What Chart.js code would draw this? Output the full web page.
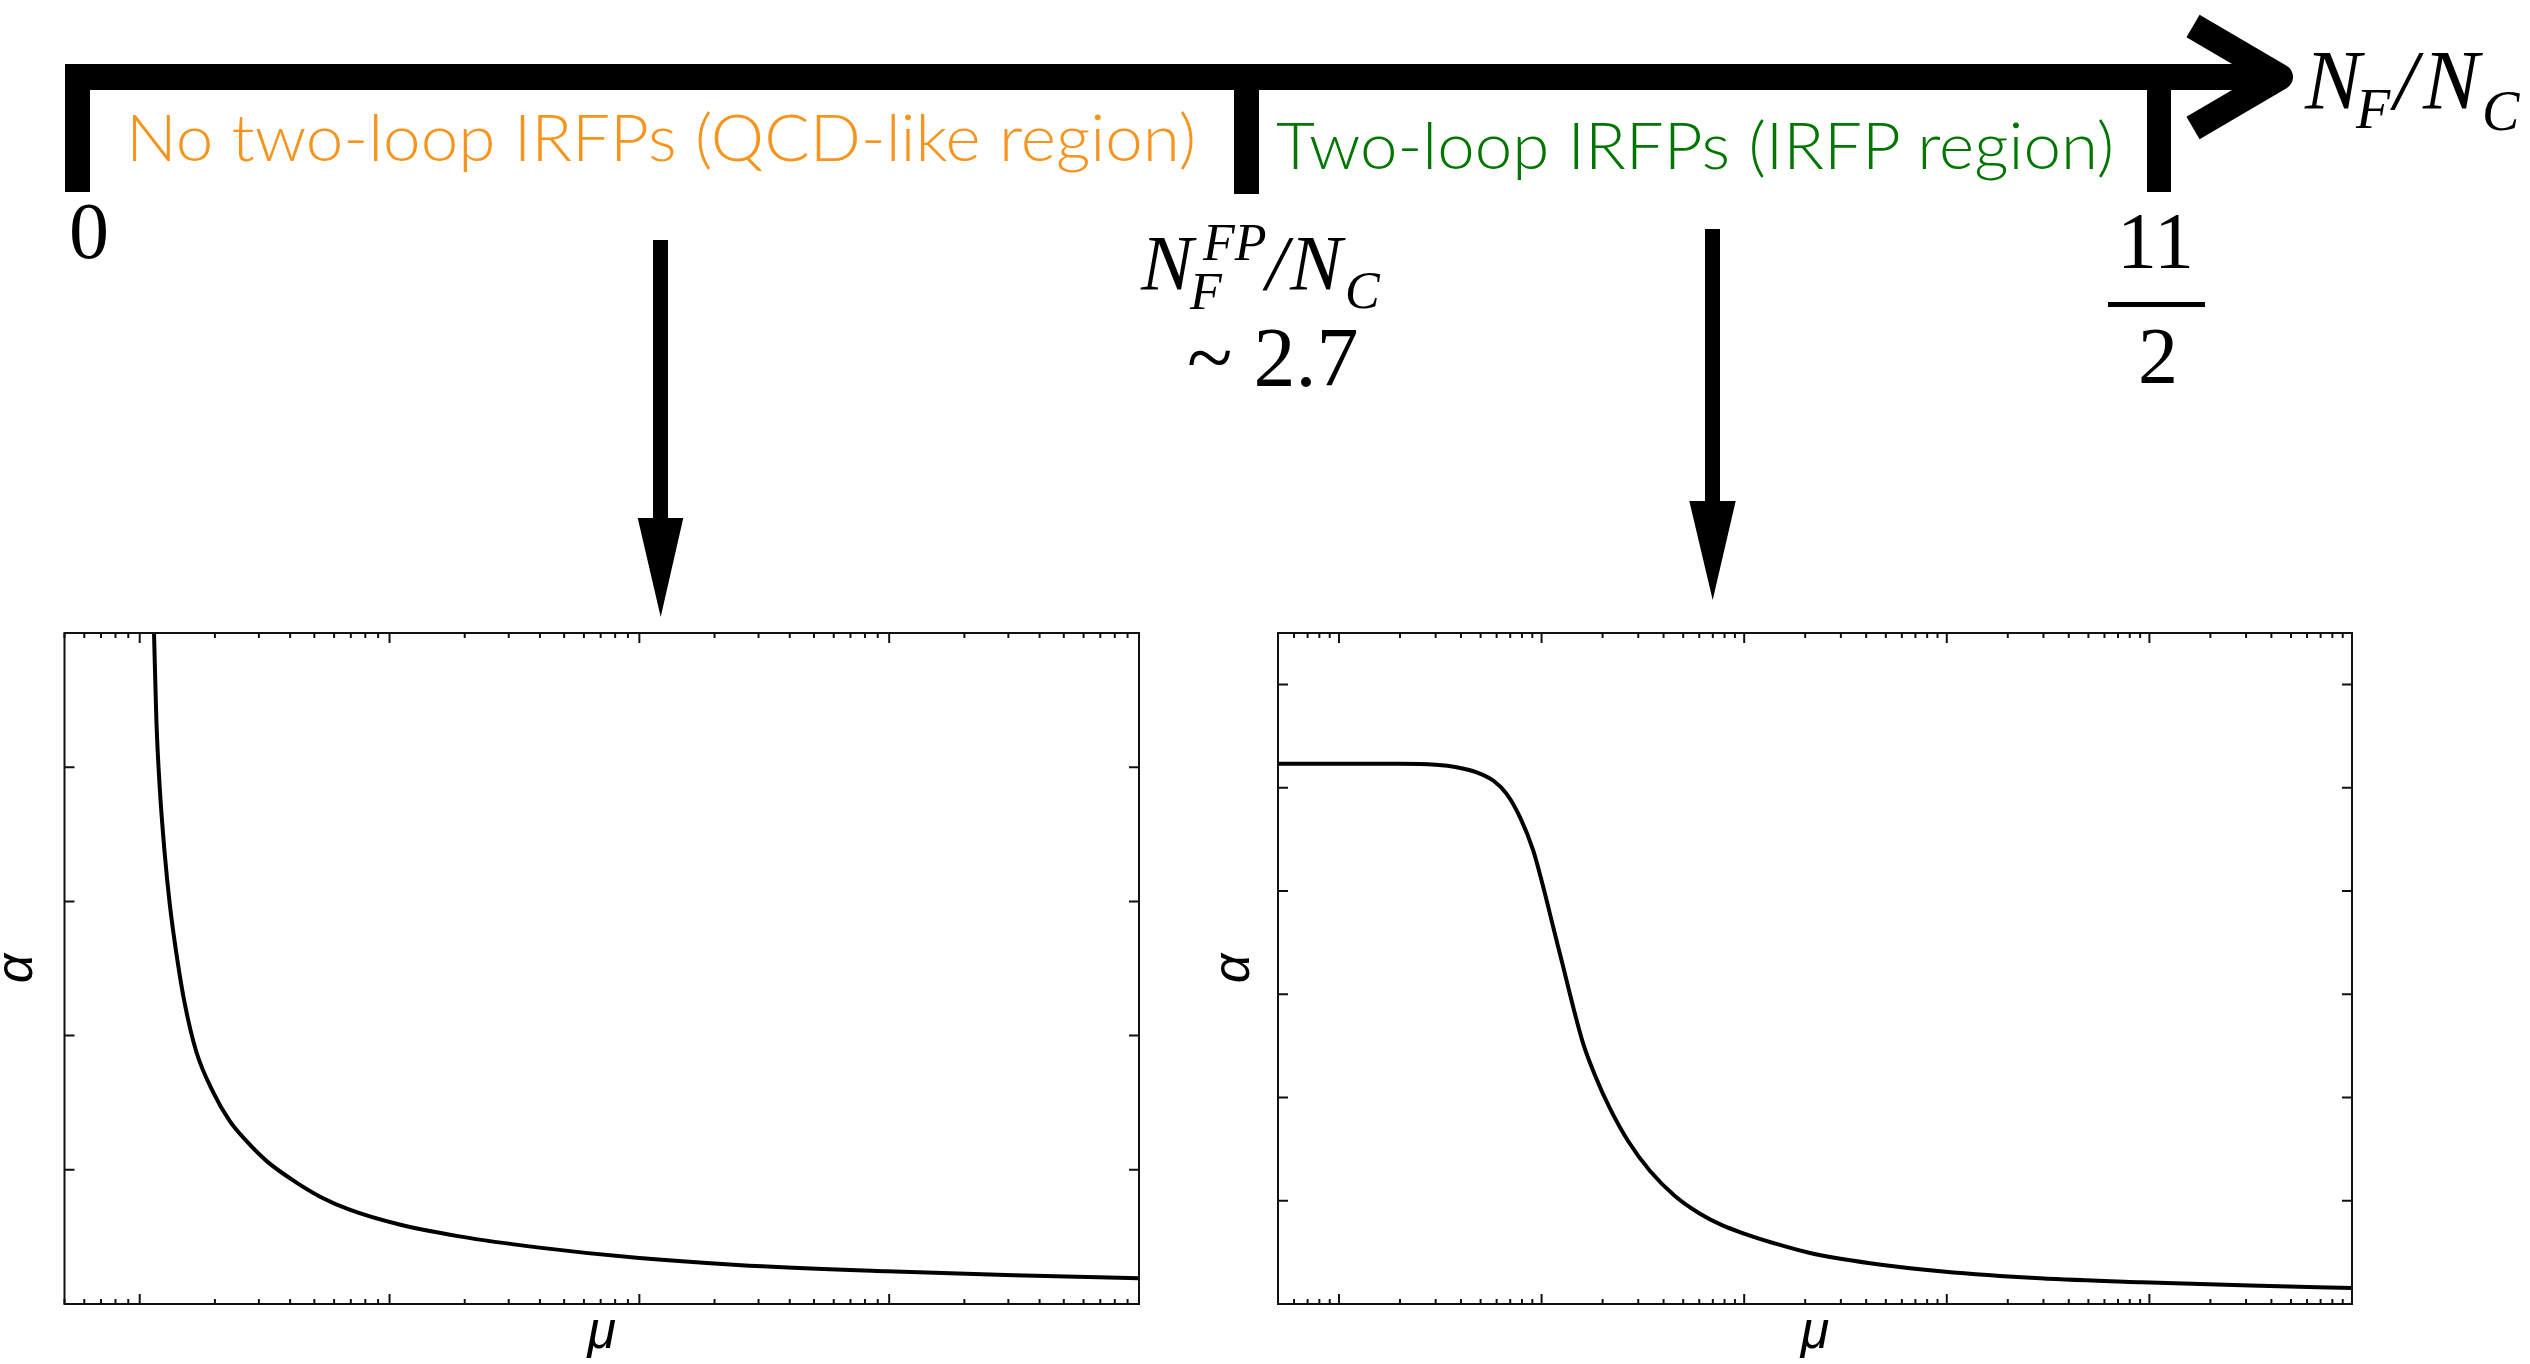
<!DOCTYPE html>
<html>
<head>
<meta charset="utf-8">
<script src="https://cdn.jsdelivr.net/npm/chart.js@4.4.1/dist/chart.umd.min.js"></script>
<style>
  html, body { margin: 0; padding: 0; background: #fff; }
  #page { position: relative; width: 2530px; height: 1364px; overflow: hidden; }
  .abs { position: absolute; white-space: nowrap; line-height: 1; }
  .serif { font-family: "Liberation Serif", "DejaVu Serif", serif; color: #000; }
  .it { font-style: italic; }
  .region { font-family: Lato, "Open Sans", sans-serif; font-weight: 300; transform-origin: left top; }
  canvas { position: absolute; }
</style>
</head>
<body>
<div id="page">
  <!-- number line with region markers and arrows -->
  <svg class="abs" width="2530" height="1364" style="left:0;top:0">
    <rect x="65" y="64" width="2212" height="26" fill="#000"/>
    <rect x="65" y="64" width="25" height="128" fill="#000"/>
    <rect x="1234" y="64" width="25" height="130" fill="#000"/>
    <rect x="2147" y="64" width="24" height="128" fill="#000"/>
    <polyline points="2193,26 2280,77 2193,128" fill="none" stroke="#000" stroke-width="26" stroke-linejoin="round"/>
    <rect x="2108" y="302" width="97" height="5" fill="#000"/>
    <rect x="653" y="240" width="15" height="280" fill="#000"/>
    <polygon points="637.7,518 683.3,518 660.7,617" fill="#000"/>
    <rect x="1705" y="229" width="15" height="274" fill="#000"/>
    <polygon points="1689.3,501 1735.7,501 1712.7,600" fill="#000"/>
  </svg>

  <div class="abs region" data-w="1070" style="left:126px;top:103px;font-size:66px;color:rgb(247,148,29)">No two-loop IRFPs (QCD-like region)</div>
  <div class="abs region" data-w="838" style="left:1276px;top:111px;font-size:66px;color:rgb(0,118,0)">Two-loop IRFPs (IRFP region)</div>

  <!-- N_F / N_C at the arrow tip -->
  <div class="abs serif it" style="left:2305px;top:39px;font-size:84px">N</div>
  <div class="abs serif it" style="left:2356px;top:81px;font-size:56px">F</div>
  <div class="abs serif it" style="left:2394px;top:39px;font-size:84px">/</div>
  <div class="abs serif it" style="left:2423px;top:39px;font-size:84px">N</div>
  <div class="abs serif it" style="left:2482px;top:83px;font-size:56px">C</div>

  <div class="abs serif" style="left:69px;top:191px;font-size:80px">0</div>

  <!-- N_F^FP / N_C ~ 2.7 -->
  <div class="abs serif it" style="left:1141px;top:224px;font-size:78px">N</div>
  <div class="abs serif it" style="left:1203px;top:217px;font-size:52px">FP</div>
  <div class="abs serif it" style="left:1190px;top:266px;font-size:52px">F</div>
  <div class="abs serif it" style="left:1266px;top:224px;font-size:78px">/</div>
  <div class="abs serif it" style="left:1290px;top:224px;font-size:78px">N</div>
  <div class="abs serif it" style="left:1345px;top:265px;font-size:52px">C</div>
  <div class="abs serif" style="left:1187px;top:316px;font-size:84px">~ 2.7</div>

  <div class="abs serif" style="left:2117px;top:201px;font-size:80px">11</div>
  <div class="abs serif" style="left:2138px;top:316px;font-size:80px">2</div>

  <canvas id="chartLeft" width="1180" height="764" style="left:0;top:600px"></canvas>
  <canvas id="chartRight" width="1200" height="764" style="left:1200px;top:600px"></canvas>
</div>

<script>
// DATA
// QCD-like region: coupling blows up at low scale
const muLeft = [1.141, 1.166, 1.202, 1.259, 1.318, 1.402, 1.514, 1.686, 1.965, 2.291, 2.672, 3.25, 4.169, 5.297, 6.918, 10.77, 19.05, 39.81, 100, 246.6, 981.7, 3155, 10000];
const alphaLeft = [5.0, 4.352, 3.855, 3.358, 2.986, 2.613, 2.24, 1.878, 1.581, 1.364, 1.215, 1.059, 0.914, 0.798, 0.703, 0.596, 0.504, 0.42, 0.342, 0.291, 0.244, 0.215, 0.192];
// IRFP region: coupling freezes at the fixed point
const muRight = [0.5, 1, 2, 3, 3.8, 4.78, 5.77, 6.72, 7.82, 9.09, 10.19, 11.41, 12.79, 14.32, 16.04, 18.32, 21.74, 26.77, 34.3, 45.5, 60.5, 77.7, 99.8, 141.9, 211.3, 418, 959, 2890, 9200, 31400, 100000];
const alphaRight = [5.233, 5.233, 5.233, 5.223, 5.2, 5.151, 5.071, 4.942, 4.716, 4.394, 4.039, 3.652, 3.264, 2.877, 2.523, 2.219, 1.895, 1.577, 1.289, 1.047, 0.875, 0.764, 0.682, 0.586, 0.494, 0.395, 0.315, 0.249, 0.21, 0.179, 0.155];
// unlabeled tick positions on the alpha axes
const yTicksLeft = [0, 1, 2, 3, 4, 5];
const yTicksRight = [0, 1, 2, 3, 4, 5, 6];

// Frame box + inward ticks on all four sides
const frameTicks = {
  id: "frameTicks",
  afterDraw(chart, args, opts) {
    const { ctx, chartArea: a, scales: { x, y } } = chart;
    ctx.save();
    ctx.strokeStyle = "#111";
    ctx.lineWidth = 2;
    ctx.beginPath();
    const e0 = Math.floor(Math.log10(x.min));
    const e1 = Math.ceil(Math.log10(x.max));
    for (let e = e0; e <= e1; e++) {
      for (let k = 1; k < 10; k++) {
        const v = k * Math.pow(10, e);
        if (v < x.min * 0.999 || v > x.max * 1.001) continue;
        const px = x.getPixelForValue(v);
        const len = k === 1 ? 10 : 5;
        ctx.moveTo(px, a.bottom);
        ctx.lineTo(px, a.bottom - len);
        ctx.moveTo(px, a.top);
        ctx.lineTo(px, a.top + len);
      }
    }
    opts.yTicks.forEach((v) => {
      const py = y.getPixelForValue(v);
      ctx.moveTo(a.left, py);
      ctx.lineTo(a.left + 10, py);
      ctx.moveTo(a.right, py);
      ctx.lineTo(a.right - 10, py);
    });
    ctx.stroke();
    ctx.strokeRect(a.left, a.top, a.right - a.left, a.bottom - a.top);
    ctx.restore();
  },
};

const titleFont = { family: "'Liberation Sans', Arial, sans-serif", style: "italic", size: 52, lineHeight: 1 };

function makeConfig(mu, alpha, xMax, yMax, yTicks, yWidth, yTitlePad, padRight) {
  return {
    type: "line",
    data: {
      datasets: [
        {
          data: mu.map((m, i) => ({ x: m, y: alpha[i] })),
          borderColor: "#000",
          borderWidth: 4,
          pointRadius: 0,
          fill: false,
          cubicInterpolationMode: "monotone",
        },
      ],
    },
    options: {
      responsive: false,
      animation: false,
      devicePixelRatio: 1,
      layout: { padding: { top: 33, right: padRight, left: 0, bottom: 0 } },
      scales: {
        x: {
          type: "logarithmic",
          min: 0.5,
          max: xMax,
          grid: { display: false },
          border: { display: false },
          ticks: { display: false },
          title: { display: true, text: "μ", color: "#000", font: titleFont, padding: { top: 0, bottom: 4 } },
          afterFit: (scale) => { scale.height = 60; },
        },
        y: {
          min: 0,
          max: yMax,
          grid: { display: false },
          border: { display: false },
          ticks: { display: false },
          title: { display: true, text: "α", color: "#000", font: titleFont, padding: { top: yTitlePad, bottom: 0 } },
          afterFit: (scale) => { scale.width = yWidth; },
        },
      },
      plugins: {
        legend: { display: false },
        tooltip: { enabled: false },
        frameTicks: { yTicks: yTicks },
      },
    },
    plugins: [frameTicks],
  };
}

new Chart(document.getElementById("chartLeft"), makeConfig(muLeft, alphaLeft, 10000, 5, yTicksLeft, 64.5, -8, 41));
new Chart(document.getElementById("chartRight"), makeConfig(muRight, alphaRight, 100000, 6.5, yTicksRight, 78, 9, 48));

// squeeze the region captions to the measured widths
document.querySelectorAll(".region").forEach((el) => {
  const w = el.getBoundingClientRect().width;
  el.style.transform = "scaleX(" + (el.dataset.w / w) + ")";
});
</script>
</body>
</html>
